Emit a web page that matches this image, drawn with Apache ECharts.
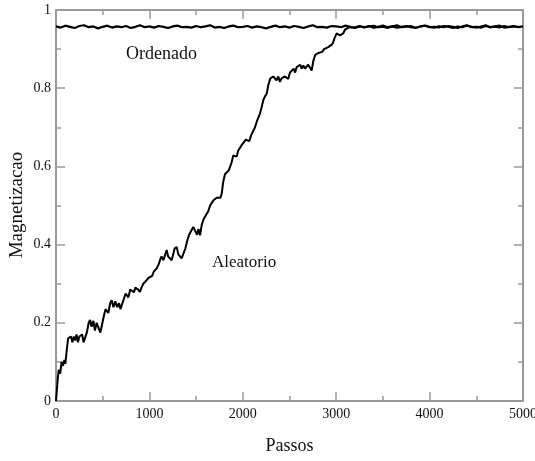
<!DOCTYPE html>
<html><head><meta charset="utf-8">
<script src="https://cdn.jsdelivr.net/npm/echarts@6/dist/echarts.min.js"></script>
<style>html,body{margin:0;padding:0;background:#fff}#c{width:535px;height:461px}</style>
</head><body><div id="c"></div>
<script>
const xTicks = [0, 1000, 2000, 3000, 4000, 5000];
const yTicks = [0, 0.2, 0.4, 0.6, 0.8, 1];
const ordenadoStep = 50;
const ordenado = [0.958,0.955,0.960,0.957,0.954,0.959,0.961,0.956,0.958,0.953,0.957,0.960,0.955,0.958,0.956,0.959,0.954,0.957,0.961,0.956,0.958,0.955,0.959,0.957,0.954,0.958,0.960,0.956,0.957,0.955,0.959,0.956,0.958,0.961,0.955,0.957,0.954,0.958,0.960,0.956,0.957,0.959,0.955,0.958,0.956,0.953,0.957,0.960,0.956,0.958,0.955,0.959,0.957,0.954,0.958,0.961,0.956,0.957,0.955,0.959,0.958,0.956,0.960,0.957,0.954,0.958,0.956,0.959,0.955,0.957,0.960,0.956,0.958,0.955,0.957,0.959,0.956,0.954,0.958,0.960,0.957,0.955,0.958,0.956,0.959,0.957,0.954,0.958,0.961,0.956,0.957,0.955,0.959,0.956,0.958,0.960,0.955,0.957,0.959,0.956,0.958];
const aleatorioX = [0,10,20,30,45,60,75,90,100,115,130,145,160,175,190,205,220,235,250,265,280,295,310,330,350,365,380,400,417,435,455,475,489,510,530,545,560,580,596,615,635,655,675,690,705,725,745,757,775,795,815,835,850,864,880,899,915,935,955,971,990,1010,1030,1045,1060,1080,1100,1113,1130,1150,1170,1185,1200,1220,1238,1255,1270,1292,1310,1330,1345,1363,1385,1405,1425,1445,1470,1490,1510,1525,1542,1560,1580,1600,1613,1630,1650,1670,1684,1700,1720,1740,1760,1774,1790,1809,1830,1850,1863,1880,1898,1916,1935,1950,1970,1990,2010,2030,2050,2070,2090,2110,2131,2150,2170,2184,2200,2220,2240,2256,2275,2295,2310,2327,2345,2360,2380,2398,2415,2430,2450,2470,2487,2505,2525,2545,2560,2577,2595,2615,2630,2648,2665,2684,2700,2720,2737,2755,2775,2791,2810,2830,2850,2870,2890,2915,2935,2955,2969,2985,3005,3022,3040,3058,3075,3095,3112,3130,3150,3200,3250,3300,3350,3400,3450,3500,3550,3600,3650,3700,3750,3800,3850,3900,3950,4000,4050,4100,4150,4200,4250,4300,4350,4400,4450,4500,4550,4600,4650,4700,4750,4800,4850,4900,4950,5000];
const aleatorioY = [0.0,0.03,0.06,0.08,0.07,0.10,0.09,0.105,0.095,0.13,0.16,0.155,0.165,0.15,0.165,0.155,0.17,0.15,0.165,0.16,0.17,0.15,0.148,0.175,0.2,0.207,0.19,0.205,0.18,0.2,0.195,0.175,0.18,0.215,0.235,0.24,0.225,0.25,0.258,0.24,0.255,0.24,0.25,0.235,0.237,0.26,0.275,0.28,0.265,0.285,0.29,0.278,0.29,0.292,0.285,0.279,0.29,0.3,0.305,0.309,0.315,0.32,0.32,0.33,0.327,0.34,0.35,0.36,0.37,0.36,0.375,0.386,0.37,0.365,0.36,0.375,0.39,0.394,0.375,0.37,0.365,0.369,0.39,0.41,0.425,0.43,0.445,0.435,0.425,0.44,0.424,0.45,0.465,0.47,0.479,0.485,0.5,0.505,0.513,0.51,0.52,0.525,0.52,0.53,0.56,0.58,0.575,0.59,0.59,0.61,0.628,0.63,0.625,0.64,0.645,0.655,0.66,0.668,0.67,0.665,0.68,0.69,0.70,0.715,0.72,0.735,0.75,0.77,0.78,0.786,0.81,0.825,0.822,0.83,0.825,0.82,0.83,0.816,0.825,0.82,0.83,0.828,0.824,0.84,0.845,0.85,0.84,0.854,0.85,0.86,0.85,0.858,0.85,0.845,0.86,0.855,0.845,0.87,0.885,0.888,0.89,0.895,0.893,0.9,0.898,0.905,0.91,0.912,0.918,0.93,0.94,0.943,0.935,0.93,0.94,0.95,0.948,0.955,0.958,0.956,0.959,0.955,0.958,0.960,0.956,0.957,0.954,0.958,0.961,0.956,0.957,0.959,0.955,0.958,0.960,0.956,0.957,0.955,0.959,0.957,0.954,0.958,0.956,0.960,0.957,0.955,0.958,0.961,0.956,0.957,0.955,0.959,0.956,0.958,0.957];

const chart = echarts.init(document.getElementById('c'), null, {renderer: 'canvas'});
const font = 'Liberation Serif, Times New Roman, serif';
const axisCol = '#999';
function xAx(pos, labels) {
  return {
    type: 'value', position: pos, min: xTicks[0], max: xTicks[xTicks.length - 1], interval: xTicks[1] - xTicks[0],
    axisLine: {show: true, onZero: false, lineStyle: {color: axisCol, width: 2}},
    axisTick: {show: true, inside: true, length: 9, lineStyle: {color: axisCol, width: 1.5}},
    minorTick: {show: true, splitNumber: 2, length: 5, lineStyle: {color: axisCol, width: 1.5}},
    axisLabel: {show: labels, color: '#111', fontFamily: font, fontSize: 14, margin: 6,
      formatter: v => String(v)},
    splitLine: {show: false}
  };
}
function yAx(pos, labels) {
  return {
    type: 'value', position: pos, min: yTicks[0], max: yTicks[yTicks.length - 1], interval: yTicks[1] - yTicks[0],
    axisLine: {show: true, onZero: false, lineStyle: {color: axisCol, width: 2}},
    axisTick: {show: true, inside: true, length: 9, lineStyle: {color: axisCol, width: 1.5}},
    minorTick: {show: true, splitNumber: 2, length: 5, lineStyle: {color: axisCol, width: 1.5}},
    axisLabel: {show: labels, color: '#111', fontFamily: font, fontSize: 14, margin: 5,
      formatter: v => String(Math.round(v * 10) / 10)},
    splitLine: {show: false}
  };
}
const xA = xAx('bottom', true);
xA.name = 'Passos'; xA.nameLocation = 'middle'; xA.nameGap = 36;
xA.nameTextStyle = {fontFamily: font, fontSize: 18, color: '#111'};
const yA = yAx('left', true);

chart.setOption({
  animation: false,
  backgroundColor: '#fff',
  grid: {left: 56, right: 12, top: 10, bottom: 60, containLabel: false, outerBoundsMode: 'none'},
  xAxis: [xA, xAx('top', false)],
  yAxis: [yA, yAx('right', false)],
  series: [
    {name: 'Ordenado', type: 'line', xAxisIndex: 0, yAxisIndex: 0, showSymbol: false,
     data: ordenado.map((v, i) => [i * ordenadoStep, v]),
     lineStyle: {color: '#000', width: 2.2}},
    {name: 'Aleatorio', type: 'line', xAxisIndex: 0, yAxisIndex: 0, showSymbol: false,
     data: aleatorioX.map((x, i) => [x, aleatorioY[i]]),
     lineStyle: {color: '#000', width: 2}}
  ],
  graphic: [
    {type: 'text', x: 17, y: 205, rotation: Math.PI / 2,
     style: {text: 'Magnetizacao', font: '19px ' + font, fill: '#111', align: 'center', verticalAlign: 'middle'}},
    {type: 'text', left: 126, top: 45, style: {text: 'Ordenado', font: '18px ' + font, fill: '#111'}},
    {type: 'text', left: 212, top: 254, style: {text: 'Aleatorio', font: '17px ' + font, fill: '#111'}}
  ]
});
</script></body></html>
